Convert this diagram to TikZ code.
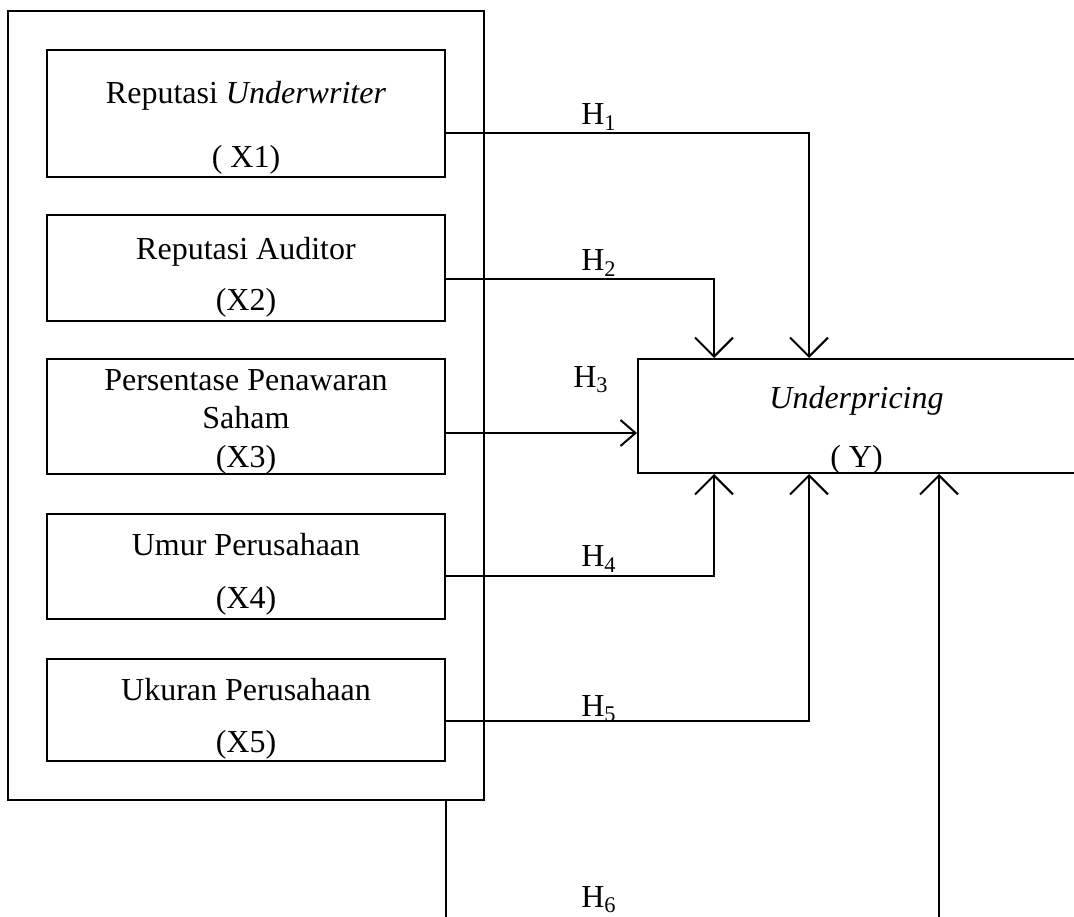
\documentclass[tikz,border=0pt]{standalone}
\usepackage{fontspec}
\setmainfont{Liberation Serif}
\usetikzlibrary{arrows.meta,positioning,fit}

\begin{document}
\begin{tikzpicture}
%Research framework
	[
	 	 %Styles
       x=0.5pt, y=-0.5pt,
       line width=1pt,
       var_node/.style={rectangle,draw=black,minimum width=199pt,inner sep=0pt},
		 result_node/.style={rectangle,draw=black,minimum width=219.5pt,minimum height=57pt,inner sep=0pt},
		 group_node/.style={rectangle,draw=black,inner sep=19pt},
		 label_simple/.style={rectangle,align=center,inner sep=0pt,font=\fontsize{16}{18.4}\selectfont},
		 hyp_edge/.style={-{Straight Barb[length=9.5pt,width=19pt]}},
		 hyp_edge_small/.style={-{Straight Barb[length=7.5pt,width=13pt]}}
    ]

    \path[use as bounding box,clip] (0,0) rectangle (1074,916);

    %Node placement
    \node (x1) [var_node, minimum height=63.5pt] at (246,113.5) {};
    \node (x2) [var_node, minimum height=53pt] at (246,268) {};
    \node (x3) [var_node, minimum height=57.5pt] at (246,416.5) {};
    \node (x4) [var_node, minimum height=52.5pt] at (246,566.5) {};
    \node (x5) [var_node, minimum height=51pt] at (246,710) {};
    \node (group) [group_node, fit=(x1) (x5)] {};
    \node (yvar) [result_node] at (857.5,416) {};

    %Texts
    \node (tx1) [label_simple] at (246,128) {Reputasi \textit{Underwriter}\\[13.6pt]( X1)};
    \node (tx2) [label_simple] at (246,277.5) {Reputasi Auditor\\[7.1pt](X2)};
    \node (tx3) [label_simple] at (246,421.5) {Persentase Penawaran\\[0.85pt]Saham\\[0.85pt](X3)};
    \node (tx4) [label_simple] at (246,574.5) {Umur Perusahaan\\[8.1pt](X4)};
    \node (tx5) [label_simple] at (246,719) {Ukuran Perusahaan\\[7.6pt](X5)};
    \node (ty) [label_simple] at (856.5,430.5) {\textit{Underpricing}\\[11.1pt]( Y)};

    %Hypotheses
    \node (h1) [label_simple] at (599,117) {H\textsubscript{1}};
    \node (h2) [label_simple] at (599,263) {H\textsubscript{2}};
    \node (h3) [label_simple] at (591,380) {H\textsubscript{3}};
    \node (h4) [label_simple] at (599,559) {H\textsubscript{4}};
    \node (h5) [label_simple] at (599,709) {H\textsubscript{5}};
    \node (h6) [label_simple] at (599,900) {H\textsubscript{6}};

    %Edges
    \draw[hyp_edge] ([yshift=-9.75pt]x1.east) -| ([xshift=-24.25pt]yvar.north);
    \draw[hyp_edge] ([yshift=-5.5pt]x2.east) -| ([xshift=-71.75pt]yvar.north);
    \draw[hyp_edge_small] ([yshift=-8.25pt]x3.east) -- ([yshift=-8.25pt]x3.east -| yvar.west);
    \draw[hyp_edge] ([yshift=-4.75pt]x4.east) -| ([xshift=-71.75pt]yvar.south);
    \draw[hyp_edge] ([yshift=-5.5pt]x5.east) -| ([xshift=-24.25pt]yvar.south);
    \draw[hyp_edge] (x5.east |- group.south) -- ++(0,140) -| ([xshift=40.75pt]yvar.south);
\end{tikzpicture}
\end{document}
